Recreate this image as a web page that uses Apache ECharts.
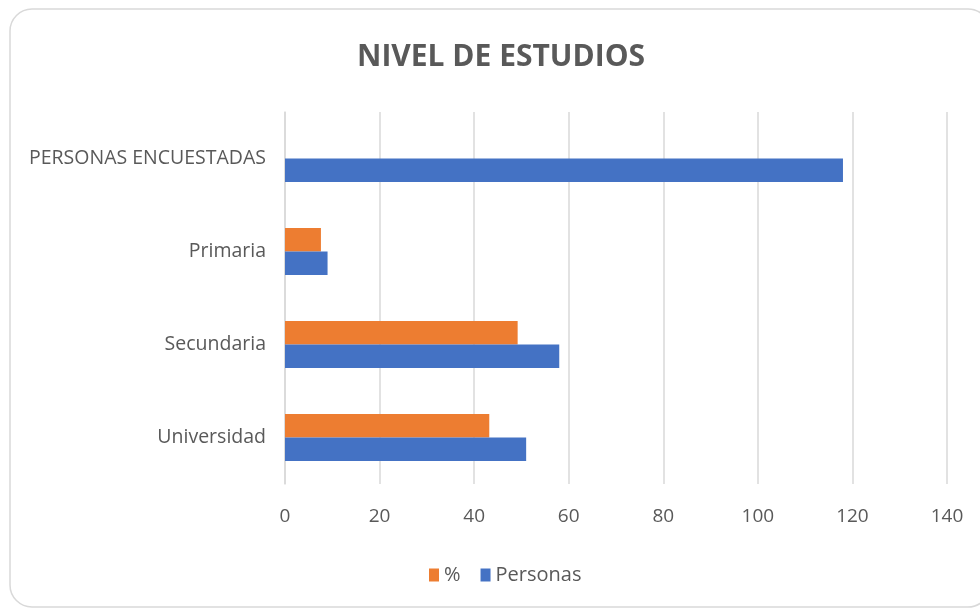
<!DOCTYPE html>
<html>
<head>
<meta charset="utf-8">
<script src="https://cdn.jsdelivr.net/npm/echarts@6/dist/echarts.min.js"></script>
<style>
    html, body { margin: 0; padding: 0; background: #fff; }
    #chart { width: 980px; height: 609px; }
</style>
</head>
<body>
<div id="chart"></div>
<script>
// categories, bottom to top (as ECharts draws a y category axis)
const categories = ['Universidad', 'Secundaria', 'Primaria', 'PERSONAS ENCUESTADAS'];
const porcentaje = [43.2, 49.2, 7.6, null];
const personas = [51, 58, 9, 118];
const xTicks = [0, 20, 40, 60, 80, 100, 120, 140];

const FONT = '"Open Sans", sans-serif';

const chart = echarts.init(document.getElementById('chart'));

chart.setOption({
    backgroundColor: '#fff',
    animation: false,
    textStyle: {fontFamily: FONT},
    title: {
        text: 'NIVEL DE ESTUDIOS',
        left: 352,
        top: 37,
        textStyle: {
            fontFamily: FONT,
            fontSize: 30,
            fontWeight: 'bold',
            color: '#595959',
        },
    },
    graphic: [
        {
            type: 'rect',
            shape: {x: 10, y: 9, width: 980, height: 598, r: 22},
            style: {fill: 'none', stroke: '#d9d9d9', lineWidth: 1.5},
            silent: true,
        },
    ],
    legend: {
        data: ['%', 'Personas'],
        bottom: 19,
        left: 424,
        itemWidth: 10,
        itemHeight: 13,
        itemGap: 20,
        icon: 'rect',
        textStyle: {fontFamily: FONT, fontSize: 20, color: '#595959'},
    },
    grid: {
        left: 285,
        right: 33,
        top: 112,
        bottom: 125,
    },
    xAxis: {
        type: 'value',
        min: xTicks[0],
        max: xTicks[xTicks.length - 1],
        interval: 20,
        axisLine: {show: false},
        axisTick: {show: false},
        splitLine: {lineStyle: {color: '#d9d9d9', width: 1.5}},
        axisLabel: {
            margin: 23,
            fontFamily: FONT,
            fontSize: 19,
            color: '#595959',
        },
    },
    yAxis: {
        type: 'category',
        data: categories,
        axisLine: {show: true, lineStyle: {color: '#d9d9d9', width: 1.5}},
        axisTick: {show: false},
        axisLabel: {
            margin: 19,
            fontFamily: FONT,
            fontSize: 19.5,
            color: '#595959',
        },
    },
    series: [
        {
            name: '%',
            type: 'bar',
            data: porcentaje,
            barWidth: 23.5,
            barGap: '0%',
            itemStyle: {color: '#ed7d31'},
        },
        {
            name: 'Personas',
            type: 'bar',
            data: personas,
            barWidth: 23.5,
            barGap: '0%',
            itemStyle: {color: '#4472c4'},
        },
    ],
});
</script>
</body>
</html>
